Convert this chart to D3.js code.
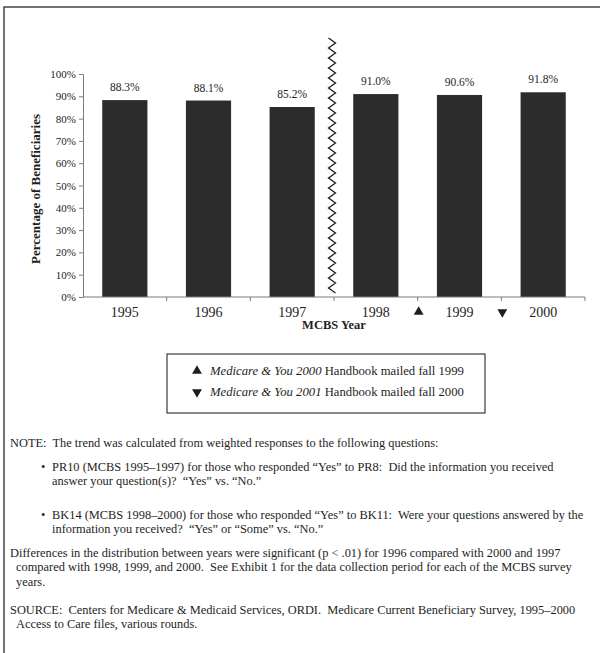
<!DOCTYPE html>
<html>
<head>
<meta charset="utf-8">
<script src="https://cdn.jsdelivr.net/npm/d3@7"></script>
<style>
  body { margin: 0; background: #fff; }
  svg { display: block; font-family: "Liberation Serif", "Times New Roman", serif; }
  text { fill: #1e1e1e; white-space: pre; }
</style>
</head>
<body>
<div id="chart"></div>
<script>
const years = ["1995", "1996", "1997", "1998", "1999", "2000"];
const shares = [88.3, 88.1, 85.2, 91.0, 90.6, 91.8];
const yTicks = [0, 10, 20, 30, 40, 50, 60, 70, 80, 90, 100];
// handbook mailings sit just before these years on the axis
const mailMarks = [{ before: "1999", dir: "up" }, { before: "2000", dir: "down" }];

const legendMarks = ["up", "down"];
const legendItalic = ["Medicare & You 2000", "Medicare & You 2001"];
const legendRest = [" Handbook mailed fall 1999", " Handbook mailed fall 2000"];

const noteLines = [
  "NOTE:  The trend was calculated from weighted responses to the following questions:",
  "PR10 (MCBS 1995\u20131997) for those who responded \u201cYes\u201d to PR8:  Did the information you received",
  "answer your question(s)?  \u201cYes\u201d vs. \u201cNo.\u201d",
  "BK14 (MCBS 1998\u20132000) for those who responded \u201cYes\u201d to BK11:  Were your questions answered by the",
  "information you received?  \u201cYes\u201d or \u201cSome\u201d vs. \u201cNo.\u201d",
  "Differences in the distribution between years were significant (p < .01) for 1996 compared with 2000 and 1997",
  "compared with 1998, 1999, and 2000.  See Exhibit 1 for the data collection period for each of the MCBS survey",
  "years.",
  "SOURCE:  Centers for Medicare & Medicaid Services, ORDI.  Medicare Current Beneficiary Survey, 1995\u20132000",
  "Access to Care files, various rounds."
];
const noteBaselines = [447, 471, 485, 519, 533, 557, 571, 586, 614, 628];
const noteIndent = [10, 52, 52, 52, 52, 10, 16, 16, 10, 16];
const noteBullet = [false, true, false, true, false, false, false, false, false, false];

const width = 603, height = 653;
const plot = { left: 83, right: 585, top: 74, bottom: 297 };

const svg = d3.select("#chart").append("svg")
  .attr("width", width)
  .attr("height", height);

// page frame (scanned page edge)
svg.append("path")
  .attr("d", `M4,${height} L4,7 L600,7`)
  .attr("fill", "none")
  .attr("stroke", "#444")
  .attr("stroke-width", 1.5);

const x = d3.scaleBand()
  .domain(years)
  .range([plot.left, plot.right])
  .paddingInner(0.46)
  .paddingOuter(0.23);

const y = d3.scaleLinear()
  .domain([0, 100])
  .range([plot.bottom, plot.top]);

const edge = d => x(d) - x.step() * x.paddingInner() / 2;

// bars
svg.append("g")
  .selectAll("rect")
  .data(years)
  .join("rect")
  .attr("x", d => x(d))
  .attr("width", x.bandwidth())
  .attr("y", (d, i) => y(shares[i]))
  .attr("height", (d, i) => y(0) - y(shares[i]))
  .attr("fill", "#2c2c2c");

svg.append("g")
  .selectAll("text")
  .data(years)
  .join("text")
  .attr("x", d => x(d) + x.bandwidth() / 2)
  .attr("y", (d, i) => y(shares[i]) - 9)
  .attr("text-anchor", "middle")
  .attr("font-size", 11.5)
  .text((d, i) => shares[i].toFixed(1) + "%");

// y axis
const yAxis = svg.append("g")
  .attr("transform", `translate(${plot.left},0)`)
  .call(d3.axisLeft(y)
    .tickValues(yTicks)
    .tickFormat(d => d + "%")
    .tickSize(4)
    .tickSizeOuter(0)
    .tickPadding(3));
yAxis.select(".domain").attr("stroke", "#7a7a7a");
yAxis.selectAll(".tick line").attr("stroke", "#7a7a7a");
yAxis.selectAll(".tick text")
  .attr("font-family", "Liberation Serif, Times New Roman, serif")
  .attr("font-size", 11)
  .attr("fill", "#1e1e1e");

svg.append("text")
  .attr("transform", `translate(37,189) rotate(-90)`)
  .attr("text-anchor", "middle")
  .attr("dominant-baseline", "middle")
  .attr("font-size", 13)
  .attr("font-weight", "bold")
  .text("Percentage of Beneficiaries");

// x axis: line with ticks on the category edges
const xAxis = svg.append("g");
xAxis.append("line")
  .attr("x1", plot.left).attr("x2", plot.right)
  .attr("y1", y(0)).attr("y2", y(0))
  .attr("stroke", "#7a7a7a");
xAxis.selectAll("line.tick")
  .data(years.slice(1).map(edge).concat([plot.right]))
  .join("line")
  .attr("class", "tick")
  .attr("x1", d => d).attr("x2", d => d)
  .attr("y1", y(0)).attr("y2", y(0) + 4)
  .attr("stroke", "#7a7a7a");
xAxis.selectAll("text")
  .data(years)
  .join("text")
  .attr("x", d => x(d) + x.bandwidth() / 2)
  .attr("y", 317)
  .attr("text-anchor", "middle")
  .attr("font-size", 14)
  .text(d => d);

svg.append("text")
  .attr("x", (plot.left + plot.right) / 2)
  .attr("y", 329)
  .attr("text-anchor", "middle")
  .attr("font-size", 12.5)
  .attr("font-weight", "bold")
  .text("MCBS Year");

const tri = d3.symbol().type(d3.symbolTriangle).size(42);

svg.append("g")
  .selectAll("path")
  .data(mailMarks)
  .join("path")
  .attr("d", tri)
  .attr("transform", d => `translate(${edge(d.before) + 1},312) rotate(${d.dir === "up" ? 0 : 180})`)
  .attr("fill", "#1e1e1e");

// break in the series between 1997 and 1998
const zigTop = 38, zigBottom = 293, zigStep = 5, zigAmp = 3.5;
const zigPts = d3.range(zigTop, zigBottom + 0.1, zigStep)
  .map((yy, i) => [edge("1998") - 2 + (i % 2 ? zigAmp : -zigAmp), yy]);
svg.append("path")
  .attr("d", d3.line()(zigPts))
  .attr("fill", "none")
  .attr("stroke", "#1e1e1e")
  .attr("stroke-width", 1.3);

// legend box
const legend = svg.append("g");
legend.append("rect")
  .attr("x", 167).attr("y", 354)
  .attr("width", 318).attr("height", 59)
  .attr("fill", "none")
  .attr("stroke", "#3a3a3a")
  .attr("stroke-width", 1.2);

legendMarks.forEach((dir, i) => {
  const base = 375 + i * 21;
  legend.append("path")
    .attr("d", tri)
    .attr("transform", `translate(197,${base - 4}) rotate(${dir === "up" ? 0 : 180})`)
    .attr("fill", "#1e1e1e");
  const t = legend.append("text")
    .attr("x", 210)
    .attr("y", base)
    .attr("font-size", 12.7);
  t.append("tspan").attr("font-style", "italic").text(legendItalic[i]);
  t.append("tspan").text(legendRest[i]);
});

// notes
const notes = svg.append("g");
noteLines.forEach((line, i) => {
  if (noteBullet[i]) {
    notes.append("text")
      .attr("x", 41)
      .attr("y", noteBaselines[i])
      .attr("font-size", 12.4)
      .text("\u2022");
  }
  notes.append("text")
    .attr("x", noteIndent[i])
    .attr("y", noteBaselines[i])
    .attr("font-size", 12.4)
    .text(line);
});
</script>
</body>
</html>
